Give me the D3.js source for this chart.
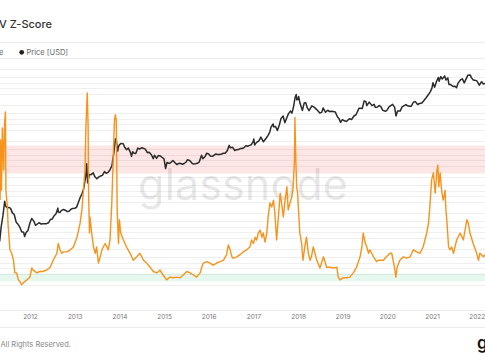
<!DOCTYPE html>
<html><head><meta charset="utf-8">
<script src="https://cdn.jsdelivr.net/npm/d3@7"></script>
<style>html,body{margin:0;padding:0;background:#fff;overflow:hidden}svg{display:block;font-family:Inter,"Noto Sans",sans-serif}</style>
</head><body>
<svg id="c" width="485" height="360"></svg>
<script>
// ---- DATA ----
const title = "MVRV Z-Score";
const legendLabels = ["MVRV Z-Score", "Price [USD]"];
const yearTicks = ["2012","2013","2014","2015","2016","2017","2018","2019","2020","2021","2022"];
const zBands = [[7, 9], [-0.7, -0.15]];

const priceDates = [
"2011-04-28","2011-05-10","2011-05-25","2011-06-08","2011-06-14","2011-06-25","2011-07-10","2011-07-25","2011-08-10","2011-08-25","2011-09-10","2011-09-25","2011-10-10","2011-10-25","2011-11-10","2011-11-18","2011-12-01","2011-12-15",
"2012-01-01","2012-01-15","2012-02-01","2012-02-15","2012-03-01","2012-03-15","2012-04-01","2012-04-15","2012-05-01","2012-05-15","2012-06-01","2012-06-15","2012-07-01","2012-07-15","2012-08-01","2012-08-16","2012-08-20","2012-09-01","2012-09-15","2012-10-01","2012-10-15","2012-11-01","2012-11-15","2012-12-01","2012-12-15",
"2013-01-01","2013-01-15","2013-02-01","2013-02-15","2013-03-01","2013-03-15","2013-04-01","2013-04-09","2013-04-16","2013-05-01","2013-05-15","2013-06-01","2013-06-15","2013-07-01","2013-07-15","2013-08-01","2013-08-15","2013-09-01","2013-09-15","2013-10-01","2013-10-15","2013-11-01","2013-11-15","2013-11-30","2013-12-05","2013-12-18","2013-12-25",
"2014-01-01","2014-01-15","2014-02-01","2014-02-15","2014-03-01","2014-03-15","2014-04-01","2014-04-10","2014-04-20","2014-05-01","2014-05-15","2014-06-01","2014-06-15","2014-07-01","2014-07-15","2014-08-01","2014-08-18","2014-09-01","2014-09-20","2014-10-05","2014-10-15","2014-11-01","2014-11-15","2014-12-01","2014-12-15",
"2015-01-01","2015-01-14","2015-01-25","2015-02-15","2015-03-01","2015-03-15","2015-04-01","2015-04-15","2015-05-01","2015-05-15","2015-06-01","2015-06-15","2015-07-01","2015-07-12","2015-08-01","2015-08-20","2015-09-01","2015-09-15","2015-10-01","2015-10-15","2015-11-04","2015-11-15","2015-12-01","2015-12-15",
"2016-01-01","2016-01-15","2016-02-01","2016-02-15","2016-03-01","2016-03-15","2016-04-01","2016-04-15","2016-05-01","2016-05-15","2016-06-01","2016-06-17","2016-06-25","2016-07-15","2016-08-02","2016-08-15","2016-09-01","2016-09-15","2016-10-01","2016-10-15","2016-11-01","2016-11-15","2016-12-01","2016-12-15","2016-12-31",
"2017-01-04","2017-01-11","2017-01-25","2017-02-15","2017-03-03","2017-03-24","2017-04-15","2017-05-01","2017-05-15","2017-05-25","2017-06-11","2017-06-15","2017-07-01","2017-07-16","2017-08-01","2017-08-15","2017-09-01","2017-09-15","2017-10-01","2017-10-15","2017-11-01","2017-11-12","2017-11-25","2017-12-08","2017-12-17","2017-12-22","2017-12-31",
"2018-01-06","2018-01-17","2018-02-06","2018-02-20","2018-03-05","2018-03-18","2018-04-01","2018-04-24","2018-05-15","2018-06-01","2018-06-28","2018-07-15","2018-07-25","2018-08-14","2018-09-01","2018-09-15","2018-10-01","2018-10-15","2018-11-01","2018-11-20","2018-12-01","2018-12-15","2018-12-30",
"2019-01-15","2019-02-01","2019-02-24","2019-03-15","2019-04-03","2019-04-20","2019-05-14","2019-05-25","2019-06-10","2019-06-26","2019-07-10","2019-07-17","2019-08-06","2019-08-29","2019-09-15","2019-09-25","2019-10-10","2019-10-26","2019-11-10","2019-11-25","2019-12-17","2019-12-31",
"2020-01-15","2020-02-13","2020-03-01","2020-03-12","2020-03-25","2020-04-15","2020-05-01","2020-05-15","2020-06-01","2020-06-15","2020-07-01","2020-07-15","2020-08-01","2020-08-17","2020-09-05","2020-09-20","2020-10-10","2020-10-25","2020-11-15","2020-12-01","2020-12-17","2020-12-31",
"2021-01-08","2021-01-22","2021-02-08","2021-02-21","2021-02-28","2021-03-13","2021-03-25","2021-04-14","2021-04-25","2021-05-10","2021-05-19","2021-06-01","2021-06-22","2021-07-08","2021-07-20","2021-08-01","2021-08-23","2021-09-06","2021-09-21","2021-10-01","2021-10-20","2021-11-10","2021-11-18","2021-12-04","2021-12-15","2021-12-31",
"2022-01-10","2022-01-22","2022-02-10","2022-02-24","2022-03-10"];
const priceUSD = [
1.6,4.0,8.5,21,16,14,14,13.5,10,9,5.5,4.8,4.0,3.0,2.9,2.2,2.9,3.2,
5.3,7.0,5.9,4.5,4.9,5.3,4.9,5.0,5.0,5.0,5.3,6.5,6.7,8.2,9.4,13.5,10.5,10.2,11.7,12.4,11.8,10.8,11.0,12.6,13.3,
13.4,14.2,20,27,34,47,104,230,68,117,115,129,100,88,98,106,110,140,126,133,155,203,420,1130,1150,520,690,
770,850,830,650,565,630,480,370,500,450,445,630,590,640,620,590,470,480,410,320,400,325,390,380,350,
315,170,250,235,255,285,245,220,235,237,223,235,258,300,280,235,228,230,237,255,400,320,360,450,
432,380,372,400,432,415,417,430,450,455,530,750,640,660,540,570,572,608,615,640,730,710,750,780,960,
1130,770,890,1000,1270,940,1180,1420,1760,2400,2950,2450,2500,1930,2750,4200,4900,3200,4400,5700,6700,5900,8800,16000,19300,13800,14000,
17100,11000,7000,11200,11500,8200,6900,9400,8500,7500,5900,6300,8200,6200,7100,6500,6600,6500,6350,4600,4200,3250,3900,
3600,3450,4100,3900,4900,5300,8000,8000,7900,12900,12300,9500,11900,9500,10300,8500,8600,9600,8800,7000,6600,7200,
8800,10300,8500,4900,6700,6700,8800,9400,10200,9400,9200,9200,11800,12300,10200,10900,11300,13000,16000,19000,23000,29000,
40800,31000,46500,57500,45000,61000,52000,63500,49000,56000,37000,36500,32500,33000,29800,40000,50000,52600,40800,48000,66000,67500,57000,49000,48500,47000,
42000,35000,44000,38000,39500];

// MVRV Z-Score: decimal year, value
const zYears = [2011.33,2011.34,2011.36,2011.38,2011.41,2011.43,2011.45,2011.46,2011.49,2011.51,2011.55,2011.59,2011.63,2011.66,2011.70,2011.74,2011.78,2011.81,2011.85,2011.93,
2012.00,2012.04,2012.07,2012.15,2012.22,2012.29,2012.37,2012.45,2012.52,2012.60,2012.63,2012.67,2012.71,2012.75,2012.82,2012.90,2012.97,
2013.05,2013.12,2013.16,2013.19,2013.23,2013.25,2013.28,2013.30,2013.31,2013.33,2013.34,2013.38,2013.42,2013.46,2013.49,2013.53,2013.57,2013.61,2013.64,2013.68,2013.72,2013.75,2013.79,2013.83,2013.86,2013.89,2013.91,2013.93,2013.94,2013.95,2013.98,
2014.00,2014.03,2014.09,2014.16,2014.24,2014.31,2014.39,2014.46,2014.54,2014.61,2014.69,2014.76,2014.84,2014.91,2014.98,
2015.06,2015.13,2015.21,2015.28,2015.36,2015.43,2015.51,2015.58,2015.66,2015.73,2015.81,2015.84,2015.88,2015.96,
2016.03,2016.10,2016.18,2016.25,2016.33,2016.40,2016.44,2016.48,2016.52,2016.55,2016.63,2016.70,2016.77,2016.85,2016.92,2016.96,
2017.00,2017.04,2017.07,2017.11,2017.15,2017.19,2017.22,2017.26,2017.30,2017.33,2017.37,2017.41,2017.45,2017.48,2017.52,2017.56,2017.60,2017.63,2017.67,2017.71,2017.75,2017.78,2017.82,2017.86,2017.89,2017.92,2017.93,2017.95,2017.97,2017.99,
2018.01,2018.04,2018.08,2018.11,2018.15,2018.19,2018.23,2018.27,2018.30,2018.34,2018.38,2018.42,2018.49,2018.57,2018.64,2018.72,2018.79,2018.87,2018.90,2018.94,
2019.01,2019.09,2019.16,2019.24,2019.31,2019.39,2019.43,2019.46,2019.50,2019.54,2019.58,2019.61,2019.69,2019.76,2019.80,2019.91,2019.98,
2020.06,2020.10,2020.13,2020.17,2020.19,2020.22,2020.28,2020.36,2020.43,2020.51,2020.58,2020.66,2020.73,2020.80,2020.88,2020.92,2020.95,2020.99,
2021.03,2021.07,2021.11,2021.13,2021.15,2021.18,2021.22,2021.25,2021.29,2021.31,2021.33,2021.37,2021.40,2021.44,2021.48,2021.55,2021.63,2021.70,2021.78,2021.81,2021.85,2021.92,
2022.00,2022.04,2022.07,2022.15,2022.19];
const zValues = [5.1,9.4,5.8,10.25,7.25,10.5,11.4,5.8,4.75,3.3,1.55,1.3,0.8,-0.1,-0.1,-0.6,-0.75,-0.95,-0.8,-0.6,
-0.4,0.25,0.1,-0.1,0.0,0.0,0.1,0.3,0.8,1.3,2.0,1.55,1.3,1.4,1.4,1.55,1.75,
2.45,3.45,4.4,5.6,7.25,10.3,12.75,10.3,5.6,2.75,3.9,2.75,1.75,1.3,1.75,0.6,1.05,1.55,1.75,2.0,1.75,1.55,2.25,4.9,7.95,10.8,11.2,10.8,7.95,4.4,2.0,
3.7,2.75,2.25,1.75,1.3,0.8,1.05,1.3,0.8,0.6,0.3,0.0,-0.1,0.1,-0.25,
-0.6,-0.4,-0.45,-0.4,-0.45,-0.25,0.0,-0.1,-0.25,-0.4,-0.1,0.25,0.6,0.7,
0.6,0.45,0.6,0.7,0.8,1.2,1.9,1.55,1.05,0.95,1.05,1.2,1.4,1.55,1.75,2.25,
2.0,2.45,2.25,2.75,2.95,2.45,2.75,2.1,2.75,3.9,4.9,4.6,5.1,4.2,2.25,3.9,5.6,4.9,3.9,5.1,6.05,4.4,4.9,5.3,6.05,7.95,11.0,7.95,6.05,5.6,
4.4,2.75,2.0,0.8,1.75,2.45,1.3,0.8,1.05,1.75,1.3,0.8,0.25,1.05,0.3,0.3,0.25,0.3,-0.4,-0.6,
-0.45,-0.45,-0.4,-0.1,0.3,1.05,1.75,2.75,2.1,1.75,1.3,1.55,1.05,0.7,0.8,0.8,1.05,
1.3,1.3,0.8,0.1,-0.4,0.3,0.8,1.05,0.95,1.05,1.55,1.4,1.3,1.75,2.75,3.45,4.6,6.55,
7.05,5.6,7.25,7.6,6.05,7.05,5.6,5.1,5.8,4.4,3.7,1.75,1.55,1.75,1.3,2.25,2.75,2.25,3.7,3.45,2.75,2.0,
1.3,0.8,1.3,1.05,1.2];

// ---- CHART ----
const W = 485, H = 360;
const svg = d3.select("#c");
const parse = d3.utcParse("%Y-%m-%d");
function fromDecimalYear(t) {
  const y = Math.floor(t);
  const a = Date.UTC(y, 0, 1), b = Date.UTC(y + 1, 0, 1);
  return new Date(a + (t - y) * (b - a));
}
const priceData = priceDates.map((d, i) => ({ date: parse(d), v: priceUSD[i] }));
const zData = zYears.map((t, i) => ({ date: fromDecimalYear(t), v: zValues[i] }));

const plotTop = 58, plotBottom = 310;
const x = d3.scaleUtc().domain([fromDecimalYear(2011.328), fromDecimalYear(2022.186)]).range([0, W]);
const yP = d3.scaleLog().domain([0.02, 200000]).range([plotBottom, plotTop]);
const yZ = d3.scaleLinear().domain([-2.75, 15.25]).range([plotBottom, plotTop]);

// gridlines (log price axis)
const gridVals = [];
for (let k = -1; k <= 5; k++) for (const m of [1, 2, 3, 4, 6]) {
  const v = m * Math.pow(10, k);
  if (v >= 0.02 && v < 200000) gridVals.push(v);
}
svg.append("g").selectAll("line").data(gridVals).join("line")
  .attr("x1", 0).attr("x2", W)
  .attr("y1", d => Math.round(yP(d)) + 0.5).attr("y2", d => Math.round(yP(d)) + 0.5)
  .attr("stroke", "#efefef").attr("stroke-width", 1);

// frame lines
[42, 58, 310, 327].forEach(yy => svg.append("line").attr("x1", 0).attr("x2", W)
  .attr("y1", yy + 0.5).attr("y2", yy + 0.5).attr("stroke", "#ebebeb"));

// bands
const bandColors = ["rgba(240,60,60,0.13)", "rgba(30,180,100,0.11)"];
svg.append("g").selectAll("rect").data(zBands).join("rect")
  .attr("x", 0).attr("width", W)
  .attr("y", d => yZ(d[1])).attr("height", d => yZ(d[0]) - yZ(d[1]))
  .attr("fill", (d, i) => bandColors[i]);

// watermark
svg.append("text").attr("x", 138).attr("y", 200).text("glassnode")
  .attr("font-size", 44).attr("textLength", 210).attr("lengthAdjust", "spacingAndGlyphs")
  .attr("fill", "#000").attr("fill-opacity", 0.1).attr("font-weight", 400);

// lines
svg.append("clipPath").attr("id", "clip").append("rect")
  .attr("x", 0).attr("y", plotTop).attr("width", W).attr("height", plotBottom - plotTop);
const lineP = d3.line().x(d => x(d.date)).y(d => yP(d.v));
const lineZ = d3.line().x(d => x(d.date)).y(d => yZ(d.v));
const g = svg.append("g").attr("clip-path", "url(#clip)");
g.append("path").datum(priceData).attr("d", lineP).attr("fill", "none")
  .attr("stroke", "#2b2b2b").attr("stroke-width", 1.5).attr("stroke-linejoin", "round");
g.append("path").datum(zData).attr("d", lineZ).attr("fill", "none")
  .attr("stroke", "#f7931a").attr("stroke-width", 1.4).attr("stroke-linejoin", "round");

// x axis labels
const xAxis = d3.axisBottom(x)
  .tickValues(yearTicks.map(s => parse(s + "-01-01")))
  .tickFormat(d3.utcFormat("%Y")).tickSize(0).tickPadding(0);
const ax = svg.append("g").attr("transform", `translate(0,${314})`).call(xAxis);
ax.select(".domain").remove();
ax.selectAll("text").attr("font-size", 6.5).attr("fill", "#777").attr("font-family", "Inter, sans-serif");

// title
svg.append("text").attr("x", 52).attr("y", 27.5).attr("text-anchor", "end")
  .text(title).attr("font-size", 11).attr("fill", "#333").attr("font-weight", 500);

// legend
svg.append("text").attr("x", 3.5).attr("y", 55).attr("text-anchor", "end")
  .text(legendLabels[0]).attr("font-size", 7.5).attr("fill", "#666");
svg.append("circle").attr("cx", 21.7).attr("cy", 52.3).attr("r", 2.4).attr("fill", "#222");
svg.append("text").attr("x", 26.5).attr("y", 55).text(legendLabels[1])
  .attr("font-size", 7.5).attr("fill", "#666");

// footer
svg.append("text").attr("x", 71).attr("y", 346.5).attr("text-anchor", "end")
  .text("© 2022 Glassnode. All Rights Reserved.").attr("font-size", 7.5).attr("fill", "#888");
svg.append("text").attr("x", 477).attr("y", 349).text("glassnode")
  .attr("font-size", 17).attr("font-weight", 600).attr("fill", "#111");
</script>
</body></html>
